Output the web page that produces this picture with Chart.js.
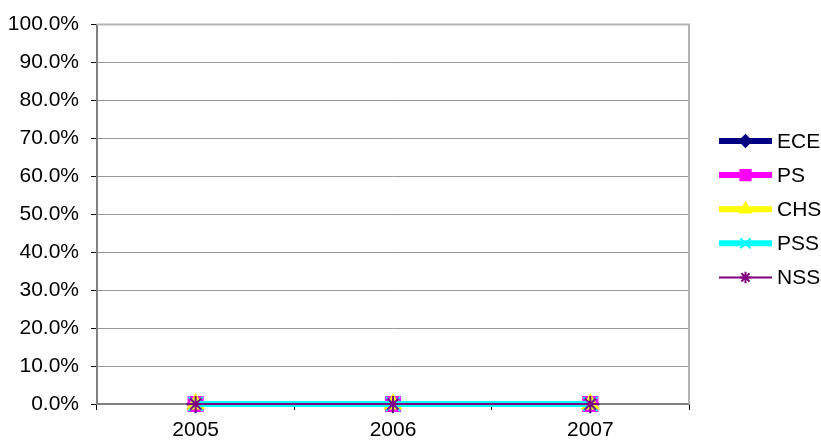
<!DOCTYPE html>
<html>
<head>
<meta charset="utf-8">
<script src="https://cdn.jsdelivr.net/npm/chart.js@4/dist/chart.umd.min.js"></script>
<style>
  html, body { margin: 0; padding: 0; background: #fff; }
  #wrap { width: 821px; height: 443px; position: relative; }
</style>
</head>
<body>
<div id="wrap"><canvas id="c"></canvas></div>
<script>
const years = ['2005', '2006', '2007'];
const seriesNames = ['ECE', 'PS', 'CHS', 'PSS', 'NSS'];
const ece = [0, 0, 0];
const ps = [0, 0, 0];
const chs = [0, 0, 0];
const pss = [0, 0, 0];
const nss = [0, 0, 0];
const yTicks = [0, 0.1, 0.2, 0.3, 0.4, 0.5, 0.6, 0.7, 0.8, 0.9, 1.0];

const FONT = 'Liberation Sans, Arial, sans-serif';

function mk(i, data, color, style, radius, width) {
    return {
        label: seriesNames[i], data,
        order: 10 - i, // first series drawn first, like excel
        borderColor: color,
        backgroundColor: color,
        pointBackgroundColor: color,
        pointBorderColor: color,
        pointStyle: style,
        pointRadius: radius,
        pointBorderWidth: 2,
        borderWidth: width,
        tension: 0,
        clip: false
    };
}

const datasets = [
    mk(0, ece, '#000080', 'rectRot', 8, 6),
    mk(1, ps, '#ff00ff', 'rect', 10, 6),
    mk(2, chs, '#ffff00', 'triangle', 9, 6),
    mk(3, pss, '#00ffff', 'crossRot', 10, 6),
    mk(4, nss, '#800080', 'star', 8, 2)
];

// excel style legend (line + marker) and plot area frame
const excelLook = {
    id: 'excelLook',
    afterDraw(chart) {
        const { ctx, chartArea } = chart;
        ctx.save();
        ctx.strokeStyle = '#b4b4b4';
        ctx.lineWidth = 2;
        ctx.beginPath();
        ctx.moveTo(chartArea.left, chartArea.top);
        ctx.lineTo(chartArea.right, chartArea.top);
        ctx.lineTo(chartArea.right, chartArea.bottom);
        ctx.stroke();

        const x0 = 719, x1 = 772, y0 = 141, step = 34.1;
        chart.data.datasets.forEach((ds, i) => {
            const y = y0 + i * step;
            ctx.strokeStyle = ds.borderColor;
            ctx.lineWidth = ds.borderWidth;
            ctx.beginPath();
            ctx.moveTo(x0, y);
            ctx.lineTo(x1, y);
            ctx.stroke();
            ctx.fillStyle = ds.pointBackgroundColor;
            ctx.strokeStyle = ds.pointBorderColor;
            ctx.lineWidth = 2;
            Chart.helpers.drawPoint(ctx, {
                pointStyle: ds.pointStyle,
                radius: ds.pointRadius * 0.72,
                borderWidth: 2,
                rotation: 0
            }, (x0 + x1) / 2, y);
            ctx.fillStyle = '#000';
            ctx.font = '21px ' + FONT;
            ctx.textBaseline = 'middle';
            ctx.textAlign = 'left';
            ctx.fillText(ds.label, 777, y + 1);
        });
        ctx.restore();
    }
};

new Chart(document.getElementById('c'), {
    type: 'line',
    data: { labels: years, datasets },
    options: {
        responsive: true,
        maintainAspectRatio: false,
        animation: false,
        layout: { padding: { top: 20, right: 132, left: 0, bottom: 0 } },
        plugins: {
            legend: { display: false },
            tooltip: { enabled: false }
        },
        scales: {
            x: {
                offset: true,
                grid: {
                    offset: true,
                    drawOnChartArea: false,
                    drawTicks: true,
                    tickLength: 6,
                    tickColor: '#000'
                },
                border: { color: '#808080', width: 2 },
                ticks: {
                    color: '#000',
                    font: { family: FONT, size: 21 },
                    padding: 8,
                    maxRotation: 0
                },
                afterFit(s) { s.height = 39; }
            },
            y: {
                min: 0,
                max: 1,
                afterBuildTicks(s) { s.ticks = yTicks.map(v => ({ value: v })); },
                grid: {
                    color: '#999',
                    lineWidth: 1,
                    tickLength: 6,
                    tickColor: '#000'
                },
                border: { color: '#808080', width: 2 },
                ticks: {
                    color: '#000',
                    font: { family: FONT, size: 21 },
                    padding: 12,
                    callback: v => (v * 100).toFixed(1) + '%'
                },
                afterFit(s) { s.width = 97; }
            }
        }
    },
    plugins: [excelLook]
});
</script>
</body>
</html>
